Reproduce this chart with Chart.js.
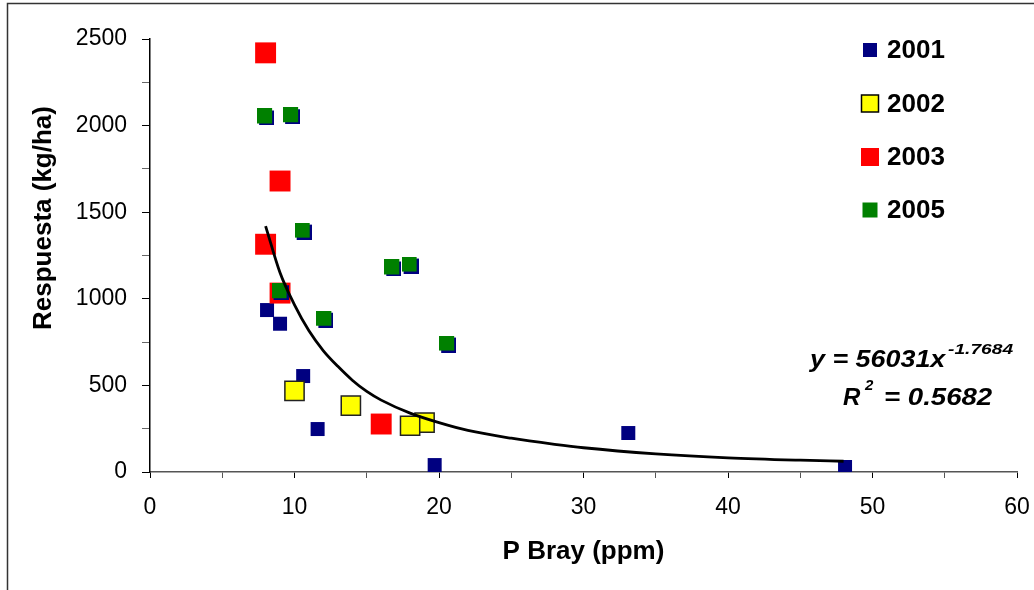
<!DOCTYPE html>
<html>
<head>
<meta charset="utf-8">
<script src="https://cdn.jsdelivr.net/npm/chart.js@4"></script>
<style>
  html, body { margin: 0; padding: 0; background: #fff; }
  #wrap { width: 1034px; height: 590px; position: relative; }
</style>
</head>
<body>
<div id="wrap"><canvas id="chart" width="1034" height="590"></canvas></div>
<script>
// values
const x2001 = [8.1, 9.0, 10.6, 11.6, 19.7, 33.1, 48.1];
const y2001 = [935, 856, 554, 248, 40, 225, 29];
const x2002 = [10.0, 13.9, 19.0, 18.0];
const y2002 = [469, 383, 285, 267];
const x2003 = [8.0, 9.0, 8.0, 9.0, 16.0];
const y2003 = [2420, 1680, 1315, 1033, 277];
const x2005 = [8.0, 9.8, 10.6, 9.0, 12.1, 16.8, 18.0, 20.6];
const y2005 = [2050, 2057, 1391, 1041, 882, 1178, 1195, 739];
// power trend line
const trendX = [8, 9, 10, 11, 12, 13, 14, 15, 16, 18, 20, 22, 25, 28, 30, 35, 40, 45, 48];
const trendY = [1420, 1150, 965, 815, 700, 610, 530, 465, 415, 340, 285, 240, 195, 160, 140, 105, 82, 68, 62];
const seriesLabels = ['2001', '2002', '2003', '2005'];
const xTicks = [0, 10, 20, 30, 40, 50, 60];
const yTicks = [0, 500, 1000, 1500, 2000, 2500];
const eqText = ['y = 56031x', '-1.7684', 'R', '2', '= 0.5682'];

const FONT = "'Liberation Sans', Arial, sans-serif";

function pts(xs, ys) {
  return xs.map((x, i) => ({ x: x, y: ys[i] }));
}

// green square with a small navy drop shadow, as in the original
function shadowSquare(side, fill, shadow, off) {
  const c = document.createElement('canvas');
  c.width = side + off;
  c.height = side + off;
  const g = c.getContext('2d');
  g.fillStyle = shadow;
  g.fillRect(off, off, side, side);
  g.fillStyle = fill;
  g.fillRect(0, 0, side, side);
  return c;
}
const greenPoint = shadowSquare(15, '#008000', '#000080', 2);

function drawText(ctx, text, x, y, font, sx) {
  ctx.save();
  ctx.translate(x, y);
  ctx.scale(sx || 1, 1);
  ctx.font = font;
  ctx.fillText(text, 0, 0);
  ctx.restore();
}

const decorations = {
  id: 'decorations',
  beforeDraw(chart) {
    const ctx = chart.ctx;
    ctx.save();
    ctx.fillStyle = '#fff';
    ctx.fillRect(0, 0, chart.width, chart.height);
    // outer frame (left and top edges only are visible)
    ctx.strokeStyle = '#333';
    ctx.lineWidth = 1.5;
    ctx.beginPath();
    ctx.moveTo(7.5, chart.height);
    ctx.lineTo(7.5, 3.5);
    ctx.lineTo(chart.width, 3.5);
    ctx.stroke();
    ctx.restore();
  },
  afterDraw(chart) {
    const ctx = chart.ctx;
    ctx.save();
    ctx.fillStyle = '#000';
    // y axis title
    ctx.save();
    ctx.translate(44, 218);
    ctx.rotate(-Math.PI / 2);
    ctx.font = 'bold 26px ' + FONT;
    ctx.textAlign = 'center';
    ctx.textBaseline = 'middle';
    ctx.fillText('Respuesta (kg/ha)', 0, 0);
    ctx.restore();

    // legend
    const rows = [50, 103.5, 157, 210];
    const sides = [14, 17, 18, 15];
    ctx.textBaseline = 'middle';
    ctx.textAlign = 'left';
    ctx.font = 'bold 26px ' + FONT;
    seriesLabels.forEach((lab, i) => {
      const cy = rows[i];
      const s = sides[i];
      const ds = chart.data.datasets[i];
      ctx.fillStyle = ds.backgroundColor;
      ctx.fillRect(870 - s / 2, cy - s / 2, s, s);
      if (i === 1) {
        ctx.strokeStyle = '#000';
        ctx.lineWidth = 1.5;
        ctx.strokeRect(870 - s / 2, cy - s / 2, s, s);
      }
      ctx.fillStyle = '#000';
      ctx.fillText(lab, 887, cy + 1);
    });

    // trend equation
    ctx.textBaseline = 'alphabetic';
    const big = 'italic bold 24px ' + FONT;
    const small = 'italic bold 15px ' + FONT;
    drawText(ctx, eqText[0], 810, 367, big, 1.12);
    drawText(ctx, eqText[1], 948, 354, small, 1.28);
    drawText(ctx, eqText[2], 843, 405, big, 1.0);
    drawText(ctx, eqText[3], 865, 390, small, 1.0);
    drawText(ctx, eqText[4], 884, 405, big, 1.15);
    ctx.restore();
  }
};

new Chart(document.getElementById('chart'), {
  type: 'scatter',
  data: {
    datasets: [
      {
        label: seriesLabels[0],
        data: pts(x2001, y2001),
        backgroundColor: '#000080',
        borderWidth: 0,
        pointStyle: 'rect',
        pointRadius: 9.9,
        order: 4,
      },
      {
        label: seriesLabels[1],
        data: pts(x2002, y2002),
        backgroundColor: '#FFFF00',
        borderColor: '#222',
        borderWidth: 1.5,
        pointStyle: 'rect',
        pointRadius: 13.6,
        order: 3,
      },
      {
        label: seriesLabels[2],
        data: pts(x2003, y2003),
        backgroundColor: '#FF0000',
        borderWidth: 0,
        pointStyle: 'rect',
        pointRadius: 14.8,
        order: 2,
      },
      {
        label: seriesLabels[3],
        data: pts(x2005, y2005),
        backgroundColor: '#008000',
        pointStyle: greenPoint,
        pointRadius: 9,
        order: 1,
      },
      {
        type: 'line',
        label: 'trend',
        data: pts(trendX, trendY),
        borderColor: '#000',
        borderWidth: 2.8,
        pointRadius: 0,
        cubicInterpolationMode: 'monotone',
        fill: false,
        order: 0,
      },
    ],
  },
  options: {
    responsive: false,
    animation: false,
    events: [],
    layout: { padding: { left: 0, top: 39, right: 17, bottom: 0 } },
    plugins: {
      legend: { display: false },
      tooltip: { enabled: false },
    },
    scales: {
      x: {
        type: 'linear',
        min: xTicks[0],
        max: xTicks[xTicks.length - 1],
        afterFit(scale) {
          scale.height = 118;
          scale.paddingLeft = 0;
          scale.paddingRight = 0;
        },
        border: { display: true, color: '#555', width: 1.5 },
        grid: {
          drawOnChartArea: false,
          drawTicks: true,
          tickLength: 6,
          tickColor: (c) => (xTicks.includes(c.tick.value) ? '#000' : '#555'),
          tickWidth: 1,
        },
        ticks: {
          stepSize: 5,
          padding: 16,
          color: '#000',
          font: { family: FONT, size: 23 },
          callback: (v) => (xTicks.includes(v) ? String(v) : ''),
          maxRotation: 0,
          autoSkip: false,
        },
        title: {
          display: true,
          text: 'P Bray (ppm)',
          color: '#000',
          font: { family: FONT, size: 26, weight: 'bold' },
          padding: { top: 0, bottom: 23 },
        },
      },
      y: {
        type: 'linear',
        min: yTicks[0],
        max: yTicks[yTicks.length - 1],
        afterFit(scale) { scale.width = 150; },
        border: { display: true, color: '#000', width: 1.5 },
        grid: {
          drawOnChartArea: false,
          drawTicks: true,
          tickLength: 8,
          tickColor: (c) => (yTicks.includes(c.tick.value) ? '#000' : '#666'),
          tickWidth: 1,
        },
        ticks: {
          stepSize: 250,
          padding: 15,
          color: '#000',
          font: { family: FONT, size: 23 },
          callback: (v) => (yTicks.includes(v) ? String(v) : ''),
          autoSkip: false,
        },
      },
    },
  },
  plugins: [decorations],
});
</script>
</body>
</html>
